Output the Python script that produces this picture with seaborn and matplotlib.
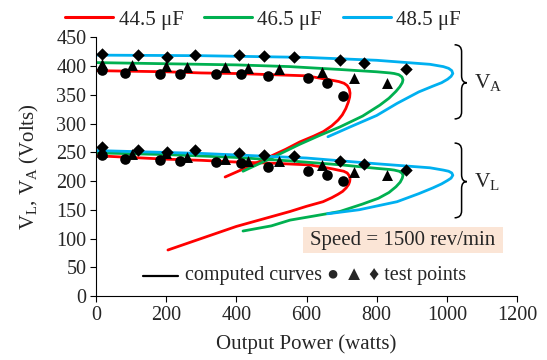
import numpy as np
import pandas as pd
import matplotlib
matplotlib.use("Agg")
import matplotlib.pyplot as plt
from matplotlib.path import Path
from matplotlib.patches import PathPatch, Rectangle
from matplotlib.lines import Line2D
import seaborn as sns

# ---------------- data ----------------
capacitors = ["44.5 μF", "46.5 μF", "48.5 μF"]
colors = ["#ff0000", "#00b050", "#00b0f0"]

# computed curves, points along each folded curve (lower branch -> nose -> upper branch)
red_VA_x = [368, 420, 487, 540, 581, 620, 648, 672, 690, 702, 712, 719, 723, 724, 722, 716, 707, 692, 675, 600, 500, 400, 300, 200, 100, 0]
red_VA_y = [207, 221, 240, 255, 268, 278, 286, 296, 306, 315, 326, 337, 346, 353, 360, 366, 370, 373, 375, 383, 385, 387, 388, 390, 391, 392]
green_VA_x = [419, 500, 581, 640, 695, 760, 809, 835, 855, 866, 873, 875, 872, 863, 850, 838, 800, 695, 553, 400, 200, 0]
green_VA_y = [217, 240, 264, 280, 294, 313, 332, 344, 356, 364, 371, 376, 381, 385, 387, 388, 390, 394, 399, 402, 404, 406]
blue_VA_x = [661, 724, 800, 858, 920, 960, 985, 1002, 1012, 1017, 1014, 1005, 990, 952, 800, 600, 300, 0]
blue_VA_y = [277, 294, 314, 335, 355, 365, 371, 377, 382, 387, 392, 396, 399, 403, 410, 415, 418, 419]

red_VL_x = [205, 300, 400, 500, 553, 600, 647, 672, 690, 703, 713, 720, 723, 724, 722, 716, 706, 690, 675, 610, 500, 400, 300, 200, 100, 0]
red_VL_y = [80, 100, 121, 138, 147, 156, 164, 171, 177, 182, 188, 194, 199, 204, 209, 214, 217, 219, 221, 228, 231, 233, 236, 238, 241, 244]
green_VL_x = [419, 500, 553, 620, 695, 760, 805, 835, 855, 867, 873, 875, 872, 864, 850, 838, 800, 700, 553, 400, 200, 0]
green_VL_y = [113, 122, 132, 139, 147, 160, 170, 180, 190, 198, 205, 210, 214, 217, 219, 220, 222, 228, 235, 241, 246, 249]
blue_VL_x = [660, 750, 858, 920, 960, 985, 1002, 1012, 1017, 1014, 1005, 990, 952, 800, 600, 300, 0]
blue_VL_y = [143, 150, 164, 178, 188, 195, 201, 205, 210, 214, 217, 219, 223, 230, 240, 248, 253]

# test points
circ_x = [16, 83, 182, 239, 342, 412, 491, 603, 659, 703]
circ_VA = [393, 388, 387, 387, 387, 386, 383, 379, 371, 348]
circ_VL = [245, 238, 237, 235, 233, 231, 224, 217, 211, 200]
tri_x = [16, 102, 199, 258, 368, 432, 522, 643, 735, 828]
tri_VA = [404, 402, 400, 399, 398, 397, 394, 390, 380, 370]
tri_VL = [250, 247, 248, 241, 238, 235, 235, 228, 216, 210]
dia_x = [16, 121, 203, 282, 408, 479, 565, 695, 764, 883]
dia_VA = [421, 419, 416, 420, 419, 417, 415, 410, 406, 395]
dia_VL = [259, 254, 251, 254, 249, 245, 244, 235, 230, 220]

xticks = [0, 200, 400, 600, 800, 1000, 1200]
yticks = [0, 50, 100, 150, 200, 250, 300, 350, 400, 450]

# ---------------- frame ----------------
rows = []
curves = [
    ("44.5 μF", "VA", red_VA_x, red_VA_y), ("46.5 μF", "VA", green_VA_x, green_VA_y),
    ("48.5 μF", "VA", blue_VA_x, blue_VA_y), ("44.5 μF", "VL", red_VL_x, red_VL_y),
    ("46.5 μF", "VL", green_VL_x, green_VL_y), ("48.5 μF", "VL", blue_VL_x, blue_VL_y),
]
for cap, v, xs, ys in curves:
    for i, (xx, yy) in enumerate(zip(xs, ys)):
        rows.append({"cap": cap, "curve": cap + v, "order": i, "x": xx, "y": yy})
df = pd.DataFrame(rows)

sns.set_style("ticks")
plt.rcParams["font.family"] = ["Liberation Serif", "DejaVu Serif"]
plt.rcParams["mathtext.fontset"] = "custom"
plt.rcParams["mathtext.rm"] = "Liberation Serif"
plt.rcParams["mathtext.it"] = "Liberation Serif"

fig = plt.figure(figsize=(5.47, 3.60), dpi=100)
ax = fig.add_axes([0.1755, 0.1778, 0.7697, 0.7186])

palette = dict(zip(capacitors, colors))
sns.lineplot(data=df, x="x", y="y", hue="cap", units="curve", estimator=None,
             sort=False, palette=palette, linewidth=2.0, legend=False, ax=ax)

pts = pd.DataFrame({"x": circ_x + circ_x, "y": circ_VA + circ_VL})
sns.scatterplot(data=pts, x="x", y="y", marker="o", color="black", s=58,
                edgecolor="black", linewidth=0, ax=ax, zorder=5)
pts = pd.DataFrame({"x": tri_x + tri_x, "y": tri_VA + tri_VL})
sns.scatterplot(data=pts, x="x", y="y", marker="^", color="black", s=62,
                edgecolor="black", linewidth=0, ax=ax, zorder=5)
pts = pd.DataFrame({"x": dia_x + dia_x, "y": dia_VA + dia_VL})
sns.scatterplot(data=pts, x="x", y="y", marker="D", color="black", s=40,
                edgecolor="black", linewidth=0, ax=ax, zorder=5)

ax.set_xlim(0, 1200)
ax.set_ylim(0, 450)
ax.set_xticks(xticks)
ax.set_yticks(yticks)
ax.tick_params(axis="both", labelsize=14.5, direction="out", length=4, width=0.8,
               color="black", pad=3)
for s in ["left", "bottom"]:
    ax.spines[s].set_linewidth(0.8)
    ax.spines[s].set_color("black")
sns.despine(ax=ax)
ax.set_xlabel("Output Power (watts)", fontsize=15, labelpad=7)
ax.set_ylabel(r"$\mathregular{V_L}$, $\mathregular{V_A}$ (Volts)", fontsize=15, labelpad=11)


def brace(x_end, x_stem, x_tip, y_top, y_mid, y_bot, dy):
    verts = [(x_end, y_top), (x_stem, y_top), (x_stem, y_top - dy),
             (x_stem, y_mid + dy), (x_stem, y_mid), (x_tip, y_mid),
             (x_stem, y_mid), (x_stem, y_mid - dy), (x_stem, y_bot + dy),
             (x_stem, y_bot), (x_end, y_bot)]
    codes = [Path.MOVETO, Path.CURVE3, Path.CURVE3, Path.LINETO, Path.CURVE3, Path.CURVE3,
             Path.CURVE3, Path.CURVE3, Path.LINETO, Path.CURVE3, Path.CURVE3]
    ax.add_patch(PathPatch(Path(verts, codes), facecolor="none", edgecolor="black",
                           linewidth=1.1, clip_on=False))


brace(1022, 1042, 1057, 437, 371, 308, 12)
brace(1022, 1042, 1057, 266, 199, 136, 12)
ax.text(1077, 371, r"$\mathregular{V_A}$", fontsize=15.5, ha="left", va="center")
ax.text(1077, 199, r"$\mathregular{V_L}$", fontsize=15.5, ha="left", va="center")

ax.add_patch(Rectangle((590, 75), 570, 45, facecolor="#fbe5d6", edgecolor="none", zorder=1))
ax.text(875, 97, "Speed = 1500 rev/min", fontsize=15, ha="center", va="center", zorder=2)

ax.plot([133, 234], [35, 35], color="black", linewidth=1.6)
ax.text(254, 35, "computed curves ● ▲ ♦ test points", fontsize=14.5, ha="left", va="center",
        family=["Liberation Serif", "DejaVu Sans"])

handles = [Line2D([0], [0], color=c, linewidth=2.2) for c in colors]
fig.legend(handles, capacitors, loc="center", bbox_to_anchor=(0.481, 0.945), ncol=3,
           frameon=False, fontsize=15, handlelength=2.3, handletextpad=0.25,
           columnspacing=1.0, borderpad=0.1)

fig.savefig("out.png", dpi=100)
